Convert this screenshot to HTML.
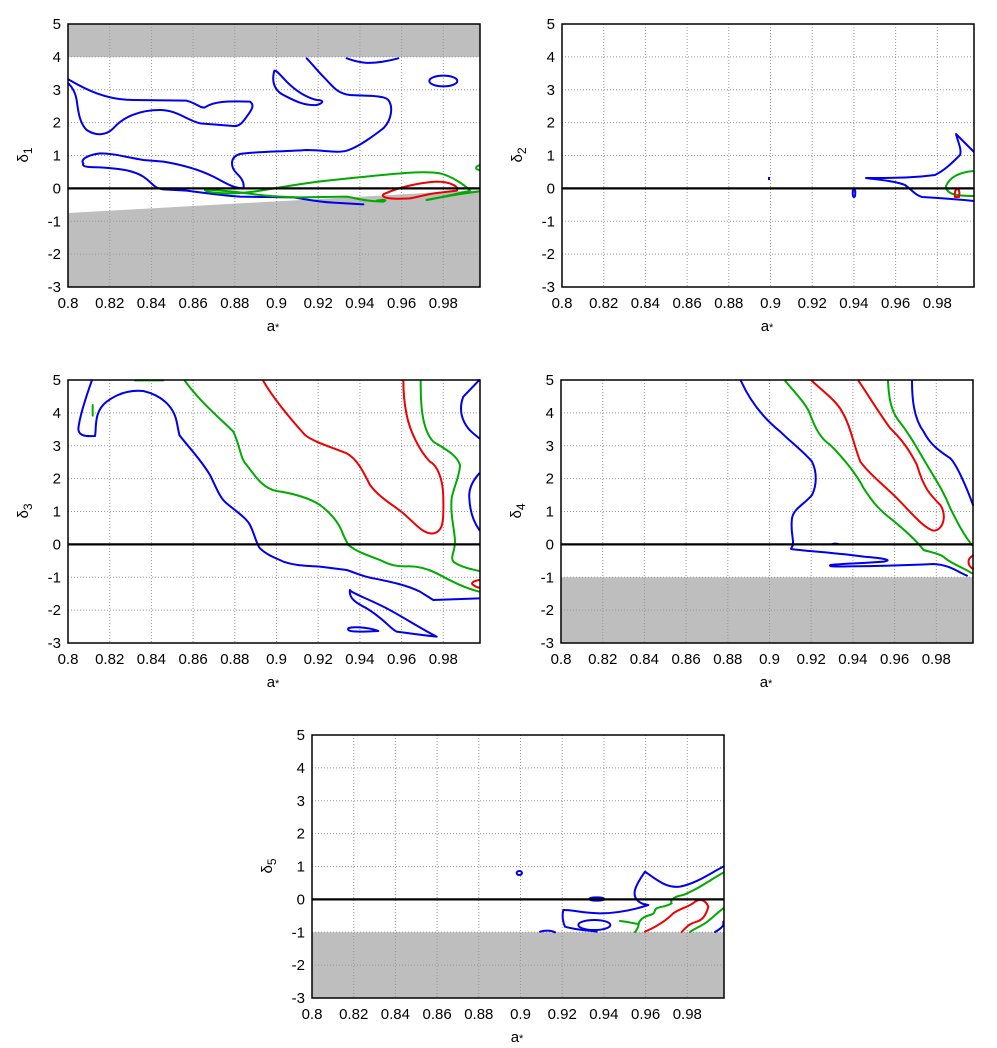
<!DOCTYPE html>
<html><head><meta charset="utf-8"><style>
html,body{margin:0;padding:0;background:#fff}
svg{display:block}
text{font-family:"Liberation Sans",sans-serif;font-size:15px;fill:#000}
.c{fill:none;stroke-width:6;stroke-linejoin:round;stroke-linecap:round}
.b{stroke:#0000ee}.g{stroke:#00aa00}.r{stroke:#ee0000}
</style></head><body>
<svg width="997" height="1048" viewBox="0 0 997 1048" xmlns="http://www.w3.org/2000/svg">
<defs>
<g id="grid" stroke="#999" stroke-width="1" stroke-dasharray="1,2">
<line x1="41.7" y1="0" x2="41.7" y2="263"/><line x1="83.4" y1="0" x2="83.4" y2="263"/><line x1="125.1" y1="0" x2="125.1" y2="263"/><line x1="166.8" y1="0" x2="166.8" y2="263"/><line x1="208.5" y1="0" x2="208.5" y2="263"/><line x1="250.2" y1="0" x2="250.2" y2="263"/><line x1="291.9" y1="0" x2="291.9" y2="263"/><line x1="333.6" y1="0" x2="333.6" y2="263"/><line x1="375.3" y1="0" x2="375.3" y2="263"/>
<line x1="0" y1="32.9" x2="412" y2="32.9"/><line x1="0" y1="65.8" x2="412" y2="65.8"/><line x1="0" y1="98.6" x2="412" y2="98.6"/><line x1="0" y1="131.5" x2="412" y2="131.5"/><line x1="0" y1="197.3" x2="412" y2="197.3"/><line x1="0" y1="230.1" x2="412" y2="230.1"/>
</g>
<g id="labels">
<g text-anchor="middle">
<text x="0" y="284">0.8</text><text x="41.7" y="284">0.82</text><text x="83.4" y="284">0.84</text><text x="125.1" y="284">0.86</text><text x="166.8" y="284">0.88</text><text x="208.5" y="284">0.9</text><text x="250.2" y="284">0.92</text><text x="291.9" y="284">0.94</text><text x="333.6" y="284">0.96</text><text x="375.3" y="284">0.98</text>
<text x="205" y="307" font-size="17">a<tspan font-size="11">*</tspan></text>
</g>
<g text-anchor="end">
<text x="-7" y="5">5</text><text x="-7" y="37.9">4</text><text x="-7" y="70.8">3</text><text x="-7" y="103.6">2</text><text x="-7" y="136.5">1</text><text x="-7" y="169.4">0</text><text x="-7" y="202.3">-1</text><text x="-7" y="235.1">-2</text><text x="-7" y="268">-3</text>
</g>
</g>
<g id="frame"><line x1="0" y1="164.4" x2="412" y2="164.4" stroke="#000" stroke-width="2.2"/><rect x="0" y="0" width="412" height="263" fill="none" stroke="#000" stroke-width="1.5"/></g>
</defs>

<!-- Panel 1 -->
<g transform="translate(68,24)">
<rect x="0" y="0" width="412" height="33" fill="#bebebe"/>
<polygon points="0,189 412,166 412,263 0,263" fill="#bebebe"/>
<use href="#grid"/>
<use href="#labels"/>
<text transform="translate(-40,131) rotate(-90)" text-anchor="middle" font-size="17">δ<tspan font-size="12" dy="4">1</tspan></text>
</g>
<g transform="scale(0.33333)">
<path class="c b" d="M205,238 C260,270 320,300 400,300 L560,302 C590,310 600,325 615,322 C640,305 680,302 750,305 C765,315 755,330 740,350 C725,372 715,380 700,378 L600,370 C560,360 530,330 480,330 C420,330 370,350 340,385 C320,405 290,410 260,390 C240,370 235,340 230,300 C225,270 210,255 205,250"/>
<path class="c b" d="M920,175 C935,190 950,210 970,230 C1000,260 1010,280 1050,285 C1100,288 1150,285 1165,300 C1180,320 1175,360 1150,385 C1130,400 1080,440 1040,452 C1010,460 970,450 920,450 C850,455 760,455 720,462 C690,470 690,500 710,520 C720,530 735,545 730,565 C700,565 680,550 640,530 C600,510 550,495 490,485 L430,480 C370,470 340,460 300,460 C260,465 240,480 250,490 C245,500 260,502 300,502 C350,505 400,510 430,530 C460,550 460,565 490,568 L560,572 C620,580 680,588 720,590 L880,592 C920,598 950,605 1000,608 L1090,613"/>
<path class="c b" d="M823,212 C815,240 820,270 850,285 C880,300 910,318 950,315 C975,308 970,300 950,300 C910,290 880,265 860,245 C840,225 830,210 823,212 Z"/>
<path class="c b" d="M1040,175 C1070,185 1100,200 1195,175"/>
<ellipse class="c b" cx="1330" cy="243" rx="42" ry="16"/>
<path class="c g" d="M615,568 C612,575 640,580 700,580 C780,578 850,555 1000,540 C1150,525 1260,510 1320,520 C1360,530 1400,560 1410,572 C1380,580 1330,590 1280,600"/>
<path class="c g" d="M615,568 L700,575 C760,582 800,590 900,592 L1040,590 C1070,595 1100,605 1150,605 C1165,600 1150,598 1130,602"/>
<path class="c g" d="M1280,600 C1330,590 1390,580 1438,574"/>
<path class="c g" d="M1438,496 C1425,500 1425,508 1438,510"/>
<path class="c r" d="M1150,583 C1140,595 1180,598 1230,595 C1260,590 1280,582 1320,578 L1370,572 C1380,560 1350,545 1310,545 C1260,548 1200,560 1150,583 Z"/>
</g>
<g transform="translate(68,24)"><use href="#frame"/></g>

<!-- Panel 2 -->
<g transform="translate(562,24)">
<use href="#grid"/>
<use href="#labels"/>
<text transform="translate(-40,131) rotate(-90)" text-anchor="middle" font-size="17">δ<tspan font-size="12" dy="4">2</tspan></text>
</g>
<g fill="none" stroke-width="2" stroke-linejoin="round">
<path stroke="#0000ee" d="M974,152 L956,134 C958,142 962,150 960,155 C952,163 945,170 935,175 C920,177 905,178 866,178 C880,180 895,181 905,185 C912,190 915,195 922,197 C940,198 955,199 974,201"/>
<path stroke="#00aa00" d="M974,171 C960,172 950,177 946,186 C946,194 955,196 974,196"/>
<path stroke="#ee0000" d="M955,197 C954,192 956,189 957,189 C959,189 960,192 959,197 Z"/>
<ellipse stroke="#0000ee" cx="854" cy="193" rx="1.3" ry="4"/>
<line x1="769" y1="177" x2="769" y2="180" stroke="#0000ee"/>
</g>
<g transform="translate(562,24)"><use href="#frame"/></g>

<!-- Panel 3 -->
<g transform="translate(68,380)">
<use href="#grid"/>
<use href="#labels"/>
<text transform="translate(-40,131) rotate(-90)" text-anchor="middle" font-size="17">δ<tspan font-size="12" dy="4">3</tspan></text>
</g>
<g transform="translate(0,365) scale(0.33333)">
<path class="c b" d="M275,48 C260,90 240,150 235,190 C235,210 250,215 285,213 C290,190 280,140 320,110 C360,80 400,75 430,78 C480,90 520,120 530,170 L538,210 C560,240 600,280 630,330 C650,370 660,400 680,415 C710,440 740,460 750,480 C765,510 770,540 780,550 C800,570 830,580 850,590 C880,600 900,602 960,605 L1040,615 C1070,625 1090,635 1120,640 C1170,650 1220,660 1260,680 L1300,705 L1438,700"/>
<path class="c g" d="M278,120 L278,152"/>
<path class="c g" d="M405,46 L490,46"/>
<path class="c g" d="M555,48 C600,110 660,160 700,200 C720,240 720,280 740,300 C770,340 790,370 830,378 C880,385 930,400 960,420 C1000,450 1020,480 1030,510 L1045,540 C1070,560 1100,570 1140,585 C1170,600 1190,605 1220,604 C1250,603 1280,610 1310,625 C1340,640 1380,665 1438,680"/>
<path class="c r" d="M790,48 C820,100 870,160 915,210 C940,230 990,245 1040,265 C1070,280 1090,320 1110,360 C1140,400 1180,420 1210,445 C1240,470 1270,510 1300,505 C1335,500 1330,450 1330,400 C1330,340 1310,300 1290,290 C1260,260 1230,200 1220,150 C1210,100 1210,70 1210,48"/>
<path class="c g" d="M1262,48 C1262,100 1262,190 1300,230 C1340,255 1370,270 1380,300 C1380,330 1360,370 1355,400 C1350,450 1365,500 1365,530 C1365,560 1350,575 1360,590 C1380,605 1410,612 1438,618"/>
<path class="c r" d="M1438,645 C1420,648 1410,655 1420,660 C1425,665 1435,668 1438,668"/>
<path class="c b" d="M1438,45 L1390,95 C1380,120 1383,140 1385,150 C1395,190 1420,205 1438,220"/>
<path class="c b" d="M1438,325 C1420,345 1405,370 1408,400 C1410,440 1420,470 1438,495"/>
<path class="c b" d="M1050,675 C1045,700 1070,715 1100,730 C1150,760 1170,790 1190,800 C1230,805 1280,812 1310,815 C1260,790 1200,750 1150,725 C1100,700 1070,690 1052,678 Z"/>
<path class="c b" d="M1045,790 C1040,800 1060,802 1135,798 C1100,785 1055,785 1045,790 Z"/>
</g>
<g transform="translate(68,380)"><use href="#frame"/></g>

<!-- Panel 4 -->
<g transform="translate(561,380)">
<rect x="0" y="197.3" width="412" height="65.7" fill="#bebebe"/>
<use href="#grid"/>
<use href="#labels"/>
<text transform="translate(-40,131) rotate(-90)" text-anchor="middle" font-size="17">δ<tspan font-size="12" dy="4">4</tspan></text>
</g>
<g transform="translate(497,365) scale(0.33333)">
<path class="c b" d="M732,48 C760,110 800,160 850,200 C880,230 920,260 945,290 C960,320 960,360 945,390 C920,420 890,430 885,460 C880,500 890,520 888,540 C880,555 880,552 890,553 C950,560 1030,565 1100,575 C1160,580 1190,585 1160,590 C1100,595 1050,595 1000,600 C995,605 1010,605 1050,604 C1150,603 1250,600 1310,597 C1360,600 1380,620 1410,632"/>
<ellipse cx="1015" cy="537" rx="12" ry="4" fill="#0000ee"/>
<path class="c g" d="M865,48 C900,90 930,120 940,150 C955,190 970,220 1000,240 C1040,280 1080,330 1100,370 C1120,400 1140,430 1180,460 C1230,500 1260,530 1280,555 C1300,562 1330,565 1345,580 C1370,600 1400,608 1425,625"/>
<path class="c r" d="M945,48 C980,80 1020,110 1035,140 C1060,180 1070,240 1090,290 C1120,330 1160,360 1200,400 C1240,440 1280,490 1310,497 C1340,495 1350,450 1330,420 C1300,390 1280,370 1260,300 C1230,240 1200,210 1180,190 C1150,150 1120,100 1085,48"/>
<path class="c g" d="M1173,48 C1175,90 1180,130 1200,160 C1240,210 1260,250 1290,300 C1320,350 1340,380 1360,430 C1380,470 1400,510 1425,540"/>
<path class="c b" d="M1245,48 C1245,100 1250,160 1280,200 C1300,240 1330,260 1360,280 C1380,300 1410,370 1428,420"/>
<path class="c r" d="M1428,572 C1410,580 1410,600 1428,612"/>
</g>
<g transform="translate(561,380)"><use href="#frame"/></g>

<!-- Panel 5 -->
<g transform="translate(312,735)">
<rect x="0" y="197.3" width="412" height="65.7" fill="#bebebe"/>
<use href="#grid"/>
<use href="#labels"/>
<text transform="translate(-40,131) rotate(-90)" text-anchor="middle" font-size="17">δ<tspan font-size="12" dy="4">5</tspan></text>
</g>
<g transform="translate(250,720) scale(0.33333)">
<ellipse class="c b" cx="808" cy="459" rx="8" ry="6"/>
<ellipse class="c b" cx="1040" cy="537" rx="22" ry="5"/>
<path class="c b" d="M1420,440 C1380,460 1340,490 1290,500 C1250,505 1220,480 1185,455 C1175,470 1160,490 1155,510 C1150,530 1160,545 1180,552 L1195,555 C1150,570 1100,580 1050,580 C1000,580 960,568 940,570 C935,590 940,610 945,620 C970,628 1000,630 1040,635"/>
<ellipse class="c b" cx="1033" cy="615" rx="48" ry="15"/>
<path class="c b" d="M870,635 C890,630 905,632 915,637"/>
<path class="c b" d="M1420,605 L1420,615 C1415,625 1405,630 1395,636"/>
<path class="c g" d="M1420,458 C1380,480 1340,510 1300,525 C1270,530 1260,540 1265,550 C1250,560 1230,560 1220,565 C1210,570 1220,580 1200,585 C1180,590 1165,600 1165,620 C1160,630 1158,633 1155,636"/>
<path class="c g" stroke-width="9" d="M1110,603 C1130,605 1150,610 1165,612"/>
<path class="c r" d="M1185,635 C1220,620 1250,600 1270,580 C1290,565 1320,560 1335,545 C1345,538 1365,535 1375,560 C1370,580 1360,600 1340,605 C1320,610 1310,620 1295,636"/>
<path class="c g" d="M1420,565 C1400,580 1380,600 1365,610 C1350,620 1330,628 1320,636"/>
</g>
<g transform="translate(312,735)"><use href="#frame"/></g>
</svg>
</body></html>
